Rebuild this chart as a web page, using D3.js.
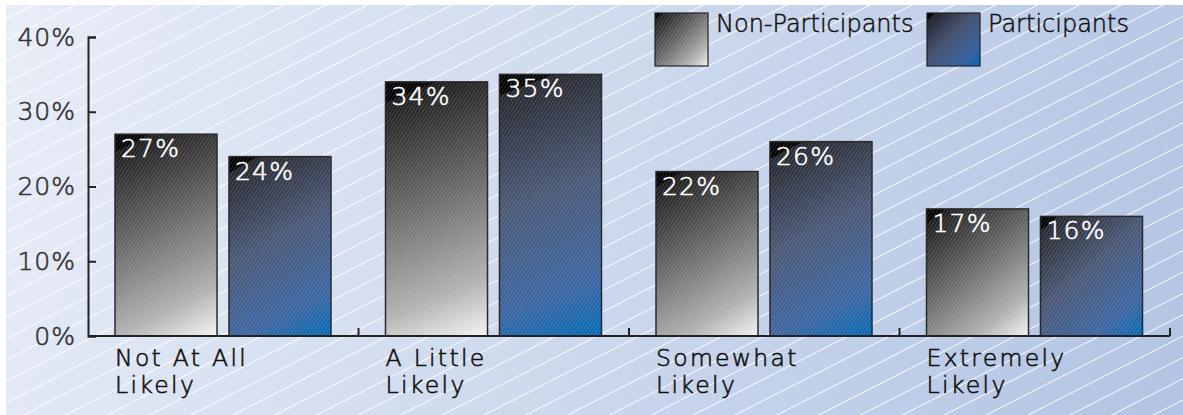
<!DOCTYPE html>
<html><head><meta charset="utf-8">
<script src="https://cdn.jsdelivr.net/npm/d3@7"></script>
<style>
html,body{margin:0;padding:0;background:#fff;}
svg{display:block;}
text{font-family:"DejaVu Sans",sans-serif;font-weight:200;}
</style></head>
<body>
<svg id="chart" width="1183" height="415"></svg>
<script>
const categories = [["Not At All","Likely"],["A Little","Likely"],["Somewhat","Likely"],["Extremely","Likely"]];
const series = ["Non-Participants","Participants"];
const nonParticipants = [27, 34, 22, 17];
const participants = [24, 35, 26, 16];
const yTicks = [0, 10, 20, 30, 40];

const svg = d3.select("#chart");
const defs = svg.append("defs");

// background gradient
const bg = defs.append("linearGradient").attr("id","bgGrad")
  .attr("gradientUnits","userSpaceOnUse").attr("x1",6).attr("y1",5).attr("x2",1183).attr("y2",415);
bg.append("stop").attr("offset",0).attr("stop-color","#e8edf7");
bg.append("stop").attr("offset",1).attr("stop-color","#b2c4e3");

const stripe = defs.append("pattern").attr("id","stripes").attr("patternUnits","userSpaceOnUse")
  .attr("width",40).attr("height",19).attr("patternTransform","rotate(-27)");
stripe.append("line").attr("x1",0).attr("x2",40).attr("y1",0.5).attr("y2",0.5)
  .attr("stroke","#ffffff").attr("stroke-width",1).attr("stroke-opacity",0.85);

const hatch = defs.append("pattern").attr("id","hatch").attr("patternUnits","userSpaceOnUse")
  .attr("width",10).attr("height",3).attr("patternTransform","rotate(-58)");
hatch.append("line").attr("x1",0).attr("x2",10).attr("y1",0.5).attr("y2",0.5)
  .attr("stroke","#ffffff").attr("stroke-width",0.8).attr("stroke-opacity",0.2);

svg.append("rect").attr("x",6).attr("y",5).attr("width",1177).attr("height",410).attr("fill","url(#bgGrad)");
svg.append("rect").attr("x",6).attr("y",5).attr("width",1177).attr("height",410).attr("fill","url(#stripes)");

const x0 = d3.scaleBand().domain(d3.range(categories.length)).range([88,1170]).paddingInner(0).paddingOuter(0);
const x1 = d3.scaleBand().domain(series).range([27,243]).paddingInner(0.105).paddingOuter(0);
const y = d3.scaleLinear().domain([0,40]).range([336,37]);

function makeGrad(id, bx, by, bw, bh, kind){
  const g = defs.append("linearGradient").attr("id",id).attr("gradientUnits","userSpaceOnUse")
    .attr("x1",bx).attr("y1",by).attr("x2",bx+bw).attr("y2",by+bh);
  const stops = kind===0
    ? [[0,"#000"],[0.07,"#000"],[0.07,"#1a1a1a"],[0.45,"#666"],[0.8,"#b0b0b0"],[1,"#f4f4f4"]]
    : [[0,"#000"],[0.07,"#000"],[0.07,"#24262c"],[0.45,"#485674"],[0.8,"#3a64a0"],[1,"#0068b6"]];
  stops.forEach(s=>g.append("stop").attr("offset",s[0]).attr("stop-color",s[1]));
}

const data = [];
categories.forEach((c,i)=>{
  data.push({cat:i, s:series[0], v:nonParticipants[i], k:0});
  data.push({cat:i, s:series[1], v:participants[i], k:1});
});

const bars = svg.append("g");
data.forEach((d,j)=>{
  const bx = x0(d.cat)+x1(d.s), by = y(d.v), bw = x1.bandwidth(), bh = y(0)-y(d.v);
  makeGrad("g"+j, bx, by, bw, bh, d.k);
  bars.append("rect").attr("x",bx).attr("y",by).attr("width",bw).attr("height",bh)
    .attr("fill","url(#g"+j+")");
  bars.append("rect").attr("x",bx).attr("y",by).attr("width",bw).attr("height",bh)
    .attr("fill","url(#hatch)").attr("stroke","#2a2a2a").attr("stroke-width",1.5);
  bars.append("text").attr("x",bx+6).attr("y",by+23).attr("fill","#fff")
    .attr("stroke","#fff").attr("stroke-width",0.6)
    .attr("font-size",25).attr("letter-spacing",1.2).text(d.v+"%");
});

// y axis
const yAxis = d3.axisLeft(y).tickValues(yTicks).tickFormat(d=>d+"%").tickSize(-8).tickPadding(12);
const ya = svg.append("g").attr("transform","translate(88,0)").call(yAxis);
ya.select(".domain").attr("stroke","#222").attr("stroke-width",2);
ya.selectAll(".tick line").attr("stroke","#222").attr("stroke-width",2);
ya.selectAll(".tick text").attr("font-size",25).attr("fill","#333").attr("stroke","#333").attr("stroke-width",0.6)
  .attr("letter-spacing",1).attr("font-family","DejaVu Sans").attr("font-weight",200);

// x axis
const xa = svg.append("g");
xa.append("line").attr("x1",88).attr("x2",1170).attr("y1",y(0)).attr("y2",y(0)).attr("stroke","#222").attr("stroke-width",2);
categories.forEach((c,i)=>{
  const tx = x0(i)+x0.bandwidth();
  xa.append("line").attr("x1",tx).attr("x2",tx).attr("y1",y(0)).attr("y2",y(0)-8).attr("stroke","#222").attr("stroke-width",2);
  c.forEach((line,li)=>{
    xa.append("text").attr("x",x0(i)+27).attr("y",366+li*27).attr("font-size",23.5).attr("fill","#111")
      .attr("stroke","#111").attr("stroke-width",0.6).attr("letter-spacing",2.3).text(line);
  });
});

// legend
const lg = svg.append("g");
const legendX = [655, 927];
series.forEach((s,i)=>{
  const gid = "lg"+i;
  makeGrad(gid, legendX[i], 13, 53, 53, i);
  lg.append("rect").attr("x",legendX[i]).attr("y",13).attr("width",53).attr("height",53).attr("fill","url(#"+gid+")");
  lg.append("rect").attr("x",legendX[i]).attr("y",13).attr("width",53).attr("height",53)
    .attr("fill", i===0 ? "url(#hatch)" : "none").attr("stroke","#222").attr("stroke-width",1.2);
  lg.append("text").attr("x",legendX[i]+61).attr("y",32).attr("font-size",24).attr("fill","#111")
    .attr("stroke","#111").attr("stroke-width",0.5).attr("letter-spacing",0).text(s);
});
</script>
</body></html>
